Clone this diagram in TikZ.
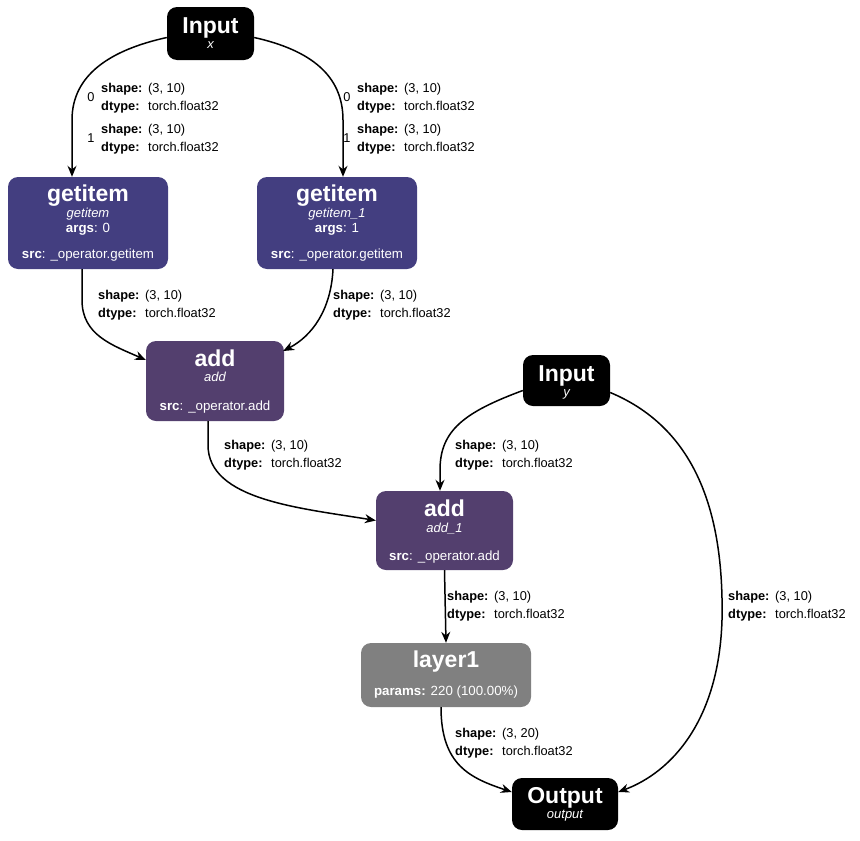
\documentclass[tikz,border=0pt]{standalone}
\usepackage{fontspec}
\setmainfont{Liberation Sans}
\usetikzlibrary{arrows.meta}
\definecolor{getc}{RGB}{67,62,128}
\definecolor{addc}{RGB}{83,63,110}
\definecolor{layc}{RGB}{128,128,128}
\tikzset{
  box/.style={draw=none, rounded corners=10pt, inner sep=0pt},
  ttl/.style={anchor=base, text=white, font=\fontsize{23}{26}\selectfont\bfseries, inner sep=0pt},
  sub/.style={anchor=base, text=white, font=\fontsize{13}{15}\selectfont\itshape, inner sep=0pt},
  info/.style={anchor=base, text=white, font=\fontsize{13.3}{15}\selectfont, inner sep=0pt},
  elabel/.style={anchor=base west, font=\fontsize{12.8}{15}\selectfont, inner sep=0pt},
  conn/.style={line width=1.5pt, -{Stealth[length=11pt,width=9pt]}},
}
\newcommand\elab[4]{%
  \node[elabel] (#1a) at (#2,#3) {\makebox[47pt][l]{\textbf{shape:}}#4};
  \node[elabel] (#1b) at (#2,#3+18) {\makebox[47pt][l]{\textbf{dtype:}}torch.float32};}
\begin{document}
\begin{tikzpicture}[x=1pt,y=-1pt]
\useasboundingbox (0,0) rectangle (860,841);
% nodes
\node[box, fill=black, minimum width=87pt, minimum height=53pt] (inx) at (210.5,33.5) {};
\node[ttl] (inxt) at (210.5,33) {Input};
\node[sub] (inxs) at (210.5,48) {x};

\node[box, fill=getc, minimum width=160pt, minimum height=92pt] (g1) at (88,223) {};
\node[ttl] (g1t) at (88,201) {getitem};
\node[sub] (g1s) at (88,217) {getitem};
\node[info] (g1a) at (88,232) {\textbf{args}: 0};
\node[info] (g1r) at (88,258) {\textbf{src}: \_operator.getitem};

\node[box, fill=getc, minimum width=160pt, minimum height=92pt] (g2) at (337,223) {};
\node[ttl] (g2t) at (337,201) {getitem};
\node[sub] (g2s) at (337,217) {getitem\_1};
\node[info] (g2a) at (337,232) {\textbf{args}: 1};
\node[info] (g2r) at (337,258) {\textbf{src}: \_operator.getitem};

\node[box, fill=addc, minimum width=138pt, minimum height=80pt] (a1) at (215,381) {};
\node[ttl] (a1t) at (215,366) {add};
\node[sub] (a1s) at (215,381) {add};
\node[info] (a1r) at (215,410) {\textbf{src}: \_operator.add};

\node[box, fill=black, minimum width=87pt, minimum height=51pt] (iny) at (566.5,380.5) {};
\node[ttl] (inyt) at (566.5,381) {Input};
\node[sub] (inys) at (566.5,396) {y};

\node[box, fill=addc, minimum width=137pt, minimum height=79pt] (a2) at (444.5,530.5) {};
\node[ttl] (a2t) at (444.5,516) {add};
\node[sub] (a2s) at (444.5,532) {add\_1};
\node[info] (a2r) at (444.5,560) {\textbf{src}: \_operator.add};

\node[box, fill=layc, minimum width=170pt, minimum height=64pt] (l1) at (446,675) {};
\node[ttl] (l1t) at (446,667) {layer1};
\node[info] (l1p) at (446,695) {\textbf{params:} 220 (100.00\%)};

\node[box, fill=black, minimum width=106pt, minimum height=52pt] (out) at (565,804) {};
\node[ttl] (outt) at (565,803) {Output};
\node[sub] (outs) at (565,818) {output};

% connectors
\draw[conn] ([yshift=-4pt]inx.west) .. controls (110,50) and (72,75) .. (72,120) -- ([xshift=-16pt]g1.north);
\draw[conn] ([yshift=-4pt]inx.east) .. controls (310,50) and (343,75) .. (343,120) -- ([xshift=6pt]g2.north);
\draw[conn] ([xshift=-6pt]g1.south) -- (82,300) .. controls (82,335) and (112,345) .. ([yshift=21pt]a1.west);
\draw[conn] ([xshift=-4pt]g2.south) .. controls (331,310) and (312,336) .. ([yshift=30pt,xshift=-1pt]a1.east);
\draw[conn] ([xshift=-7pt]a1.south) -- (208,445) .. controls (208,500) and (300,508) .. ([yshift=10pt]a2.west);
\draw[conn] ([yshift=-10pt]iny.west) .. controls (465,412) and (440,430) .. (440,470) -- ([xshift=-4.5pt]a2.north);
\draw[conn] ([yshift=-12pt]iny.east) .. controls (700,430) and (724,520) .. (722,620) .. controls (719,720) and (672,772) .. ([yshift=12pt]out.east);
\draw[conn] (a2.south) -- (l1.north);
\draw[conn] ([xshift=-5pt]l1.south) .. controls (441,765) and (470,778) .. ([yshift=12pt]out.west);

% labels
\node[anchor=base, font=\fontsize{12.8}{15}\selectfont, inner sep=0pt] (n0a) at (91,101) {0};
\elab{e1}{101}{92}{(3, 10)}
\node[anchor=base, font=\fontsize{12.8}{15}\selectfont, inner sep=0pt] (n1a) at (91,142) {1};
\elab{e2}{101}{133}{(3, 10)}
\node[anchor=base, font=\fontsize{12.8}{15}\selectfont, inner sep=0pt] (n0b) at (347,101) {0};
\elab{e3}{357}{92}{(3, 10)}
\node[anchor=base, font=\fontsize{12.8}{15}\selectfont, inner sep=0pt] (n1b) at (347,142) {1};
\elab{e4}{357}{133}{(3, 10)}
\elab{e5}{98}{299}{(3, 10)}
\elab{e6}{333}{299}{(3, 10)}
\elab{e7}{224}{449}{(3, 10)}
\elab{e8}{455}{449}{(3, 10)}
\elab{e9}{447}{600}{(3, 10)}
\elab{e10}{728}{600}{(3, 10)}
\elab{e11}{455}{737}{(3, 20)}
\end{tikzpicture}
\end{document}
